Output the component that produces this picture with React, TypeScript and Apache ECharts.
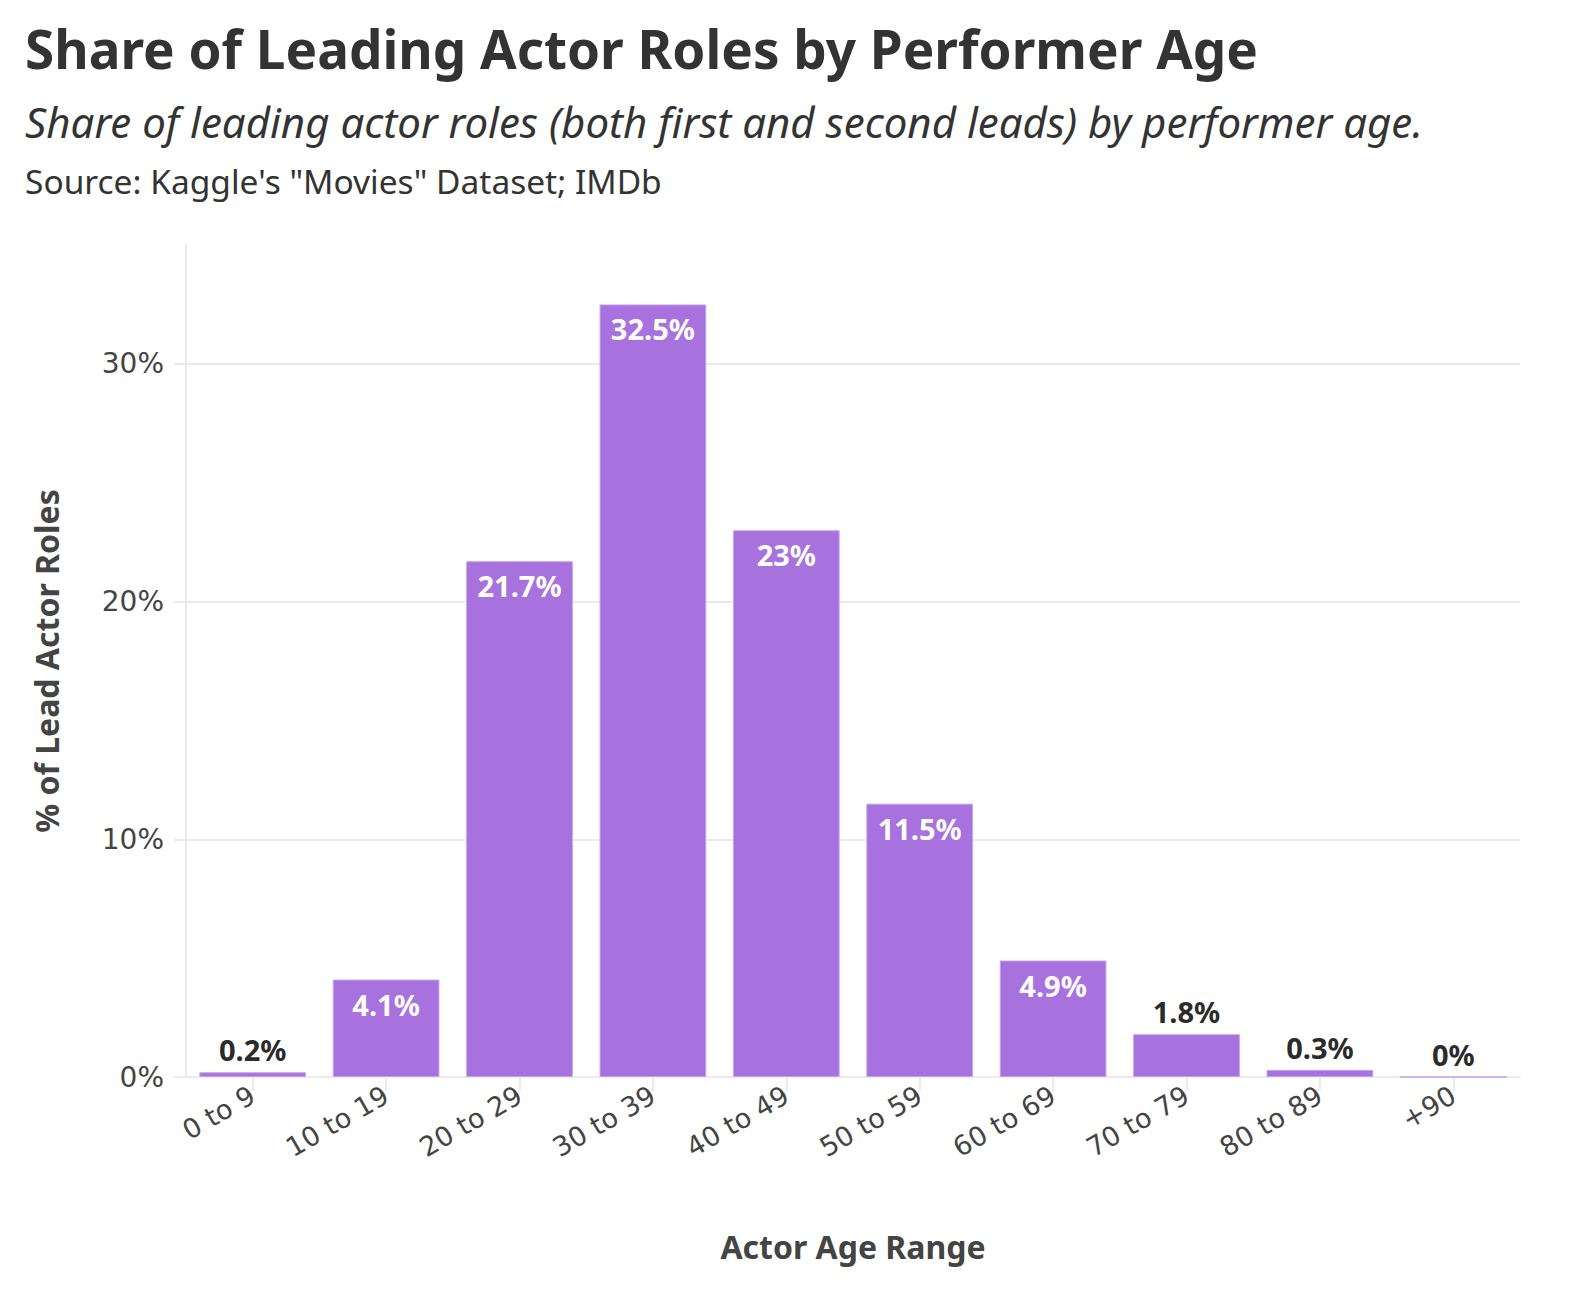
import React, { useEffect, useRef } from "react";
import * as echarts from "echarts";

const categories = ["0 to 9", "10 to 19", "20 to 29", "30 to 39", "40 to 49", "50 to 59", "60 to 69", "70 to 79", "80 to 89", "+90"];
const shares = [0.2, 4.1, 21.7, 32.5, 23, 11.5, 4.9, 1.8, 0.3, 0];
const yTicks = [0, 10, 20, 30];

const titleText = "Share of Leading Actor Roles by Performer Age";
const subtitleText = "Share of leading actor roles (both first and second leads) by performer age.";
const sourceText = "Source: Kaggle's \"Movies\" Dataset; IMDb";

const FONT = "'Noto Sans', sans-serif";
const TICK_FONT = "'DejaVu Sans', sans-serif";

export default function App() {
  const ref = useRef<HTMLDivElement>(null);
  useEffect(() => {
    document.body.style.margin = "0";
    const chart = echarts.init(ref.current!, null, { renderer: "svg" });
    const data = shares.map((v) => ({
      value: v,
      label:
        v >= 4
          ? { position: "insideTop", color: "#ffffff", distance: 10 }
          : { position: "top", color: "#2b2b2b", distance: 8 },
    }));
    chart.setOption({
      animation: false,
      backgroundColor: "#ffffff",
      textStyle: { fontFamily: FONT },
      title: [
        { text: titleText, left: 20, top: 17, textStyle: { fontFamily: FONT, fontSize: 53, fontWeight: "bold", color: "#333333" } },
        { text: subtitleText, left: 20, top: 95, textStyle: { fontFamily: FONT, fontSize: 42, fontStyle: "italic", fontWeight: "normal", color: "#333333" } },
        { text: sourceText, left: 20, top: 159, textStyle: { fontFamily: FONT, fontSize: 33.5, fontWeight: "normal", color: "#333333" } },
      ],
      grid: { left: 186, right: 68, top: 245, bottom: 229 },
      xAxis: {
        type: "category",
        data: categories,
        name: "Actor Age Range",
        nameLocation: "middle",
        nameGap: 153,
        nameTextStyle: { fontFamily: FONT, fontSize: 32, fontWeight: "bold", color: "#444444" },
        axisLine: { show: true, lineStyle: { color: "#ebebeb", width: 2 } },
        axisTick: { show: true, alignWithLabel: true, length: 14, lineStyle: { color: "#ebebeb", width: 2 } },
        axisLabel: { rotate: 30, fontFamily: TICK_FONT, fontSize: 27, color: "#444444", margin: 16, interval: 0 },
      },
      yAxis: {
        type: "value",
        min: 0,
        max: 35,
        interval: 10,
        name: "% of Lead Actor Roles",
        nameLocation: "middle",
        nameGap: 124,
        nameTextStyle: { fontFamily: FONT, fontSize: 32, fontWeight: "bold", color: "#444444" },
        axisLine: { show: true, lineStyle: { color: "#ebebeb", width: 2 } },
        axisTick: { show: true, length: 12, customValues: yTicks, lineStyle: { color: "#ebebeb", width: 2 } },
        axisLabel: { customValues: yTicks, formatter: (v: number) => v + "%", fontFamily: TICK_FONT, fontSize: 28, color: "#444444", margin: 22 },
        splitLine: { show: true, lineStyle: { color: ["#ebebeb", "#ebebeb", "#ebebeb", "#ebebeb", "rgba(0,0,0,0)"], width: 2 } },
      },
      series: [
        {
          type: "bar",
          data,
          barWidth: "80%",
          itemStyle: { color: "#a872de", borderColor: "#c6a3ed", borderWidth: 1 },
          label: {
            show: true,
            formatter: (p: any) => p.value + "%",
            fontFamily: FONT,
            fontSize: 29,
            fontWeight: "bold",
          },
        },
      ],
    });
    return () => chart.dispose();
  }, []);
  return <div ref={ref} style={{ width: 1588, height: 1306 }} />;
}
